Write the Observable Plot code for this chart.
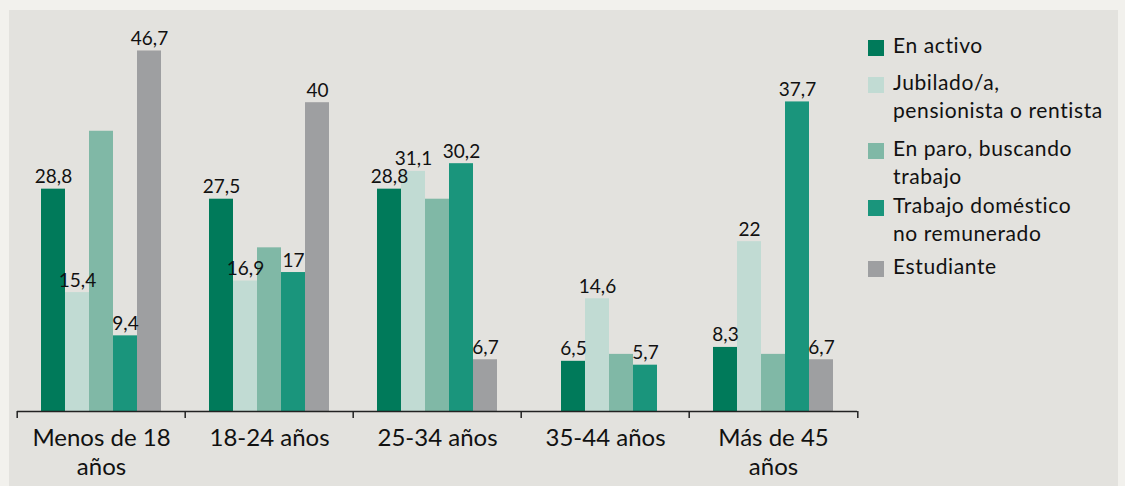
<!DOCTYPE html>
<html><head><meta charset="utf-8">
<script src="https://cdn.jsdelivr.net/npm/d3@7"></script>
<script src="https://cdn.jsdelivr.net/npm/@observablehq/plot@0.6"></script>
<style>
html,body{margin:0;padding:0;background:#f2f1ed;width:1125px;height:486px;overflow:hidden;font-family:Lato, sans-serif;}
#panel{position:absolute;left:9px;top:10px;width:1109px;height:500px;background:#e3e2de;}
#chart{position:absolute;left:0;top:0;}
.item{position:absolute;left:868px;font-size:21px;line-height:28px;letter-spacing:0.6px;color:#111;white-space:nowrap;}
.sw{position:absolute;left:0;top:9px;width:16px;height:16px;}
.tx{position:absolute;left:25px;top:0;}
</style>
</head><body>
<div id="panel"></div>
<div id="chart"></div>
<div id="legend"></div>
<script>
const groups = ["Menos de 18 años", "18-24 años", "25-34 años", "35-44 años", "Más de 45 años"];
const groupLabels = ["Menos de 18\naños", "18-24 años", "25-34 años", "35-44 años", "Más de 45\naños"];
const series = ["En activo", "Jubilado/a, pensionista o rentista", "En paro, buscando trabajo", "Trabajo doméstico no remunerado", "Estudiante"];
const legendLines = [["En activo"], ["Jubilado/a,", "pensionista o rentista"], ["En paro, buscando", "trabajo"], ["Trabajo doméstico", "no remunerado"], ["Estudiante"]];
const colors = ["#007a5a", "#c1dbd3", "#80b8a6", "#1a957c", "#9e9fa1"];

// bar heights as drawn
const enActivo   = [28.8, 27.5, 28.8, 6.5, 8.3];
const jubilado   = [15.4, 16.9, 31.1, 14.6, 22];
const enParo     = [36.3, 21.2, 27.5, 7.4, 7.4];
const trabajoDom = [9.8, 18.0, 32.1, 6.0, 40.1];
const estudiante = [46.7, 40, 6.7, null, 6.7];

// printed value labels (null = no label)
const enActivoLabels   = [28.8, 27.5, 28.8, 6.5, 8.3];
const jubiladoLabels   = [15.4, 16.9, 31.1, 14.6, 22];
const enParoLabels     = [null, null, null, null, null];
const trabajoDomLabels = [9.4, 17, 30.2, 5.7, 37.7];
const estudianteLabels = [46.7, 40, 6.7, null, 6.7];

const values = [enActivo, jubilado, enParo, trabajoDom, estudiante];
const labels = [enActivoLabels, jubiladoLabels, enParoLabels, trabajoDomLabels, estudianteLabels];
const fmt = v => String(v).replace(".", ",");

const rows = [];
groups.forEach((g, i) => {
  series.forEach((s, j) => {
    const v = values[j][i];
    if (v != null) rows.push({group: g, serie: s, value: v, label: labels[j][i] == null ? null : fmt(labels[j][i])});
  });
});
const full = rows.filter(d => d.group !== "35-44 años");
const partial = rows.filter(d => d.group === "35-44 años");

const labelOpts = {fx: "group", x: "serie", y: "value", text: "label", dy: -6, lineAnchor: "bottom", fontSize: 19, fill: "#111", style: "letter-spacing:0.4px"};

const plot = Plot.plot({
  width: 1125, height: 486,
  marginLeft: 15, marginRight: 267, marginTop: 25, marginBottom: 75,
  style: {background: "transparent", fontFamily: "Lato, sans-serif", color: "#111"},
  fx: {domain: groups, padding: 0, label: null},
  x: {domain: series, paddingInner: 0, paddingOuter: 1, axis: null},
  y: {domain: [0, 50], axis: null},
  color: {domain: series, range: colors},
  marks: [
    Plot.barY(full, {fx: "group", x: "serie", y: "value", fill: "serie"}),
    Plot.barY(partial, {fx: "group", x: "serie", y: "value", fill: "serie", dx: 16}),
    Plot.text(full.filter(d => d.label), labelOpts),
    Plot.text(partial.filter(d => d.label), {...labelOpts, dx: 16}),
    Plot.ruleY([0], {stroke: "#222", strokeWidth: 1.5}),
    Plot.axisFx({anchor: "bottom", tickSize: 7, tickFormat: () => "", dx: -84.3, strokeWidth: 1.5, stroke: "#222", label: null}),
    Plot.axisFx({anchor: "bottom", ticks: [groups[4]], tickSize: 7, tickFormat: () => "", dx: 84.3, strokeWidth: 1.5, stroke: "#222", label: null}),
    Plot.text(groups, {fx: d => d, text: d => groupLabels[groups.indexOf(d)], frameAnchor: "bottom", lineAnchor: "top", dy: 15, fontSize: 24, lineHeight: 1.17, fill: "#111"})
  ]
});
document.getElementById("chart").appendChild(plot);

const tops = [31, 68, 134, 191, 252];
const legend = document.getElementById("legend");
series.forEach((s, j) => {
  const it = document.createElement("div");
  it.className = "item";
  it.style.top = tops[j] + "px";
  const sw = document.createElement("div");
  sw.className = "sw";
  sw.style.background = colors[j];
  const tx = document.createElement("div");
  tx.className = "tx";
  tx.innerHTML = legendLines[j].join("<br>");
  it.appendChild(sw); it.appendChild(tx);
  legend.appendChild(it);
});
</script>
</body></html>
